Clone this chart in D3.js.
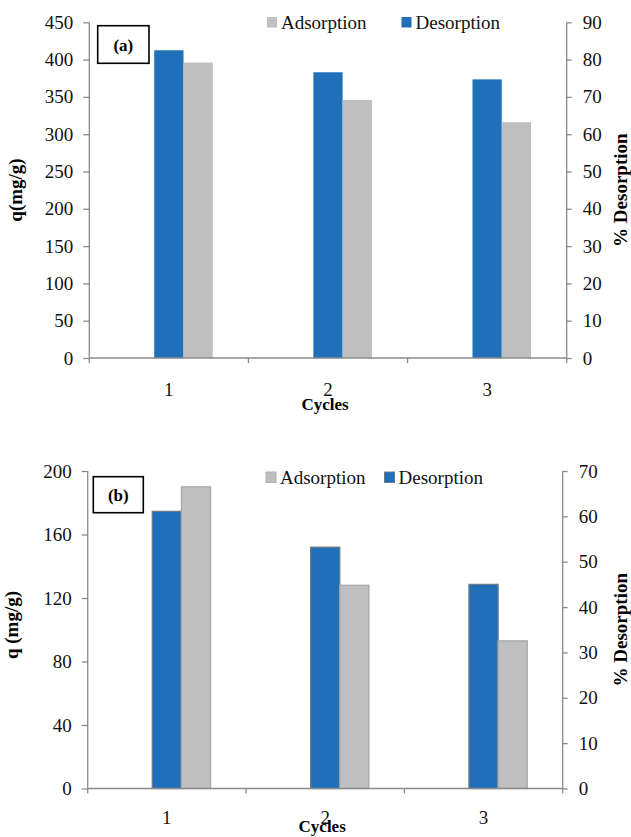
<!DOCTYPE html>
<html>
<head>
<meta charset="utf-8">
<script src="https://cdn.jsdelivr.net/npm/d3@7"></script>
<style>
  html, body { margin: 0; padding: 0; background: #fff; }
  svg { display: block; font-family: "Liberation Serif", "Times New Roman", serif; }
</style>
</head>
<body>
<svg id="chart" width="631" height="837"></svg>
<script>
// Regeneration cycles
const cycles = ["1", "2", "3"];

// Panel (a)
const adsorptionA = [396, 346, 316];      // q (mg/g)
const desorptionA = [82.5, 76.6, 74.7];   // % desorption
const leftTicksA = [0, 50, 100, 150, 200, 250, 300, 350, 400, 450];
const rightTicksA = [0, 10, 20, 30, 40, 50, 60, 70, 80, 90];

// Panel (b)
const adsorptionB = [190, 128, 93];       // q (mg/g)
const desorptionB = [61.1, 53.2, 45.0];   // % desorption
const leftTicksB = [0, 40, 80, 120, 160, 200];
const rightTicksB = [0, 10, 20, 30, 40, 50, 60, 70];

const BLUE = "#1f70b8";
const GREY = "#bfbfbf";
const AXIS = "#8a8a8a";

const svg = d3.select("#chart");

function panel(cfg) {
  const g = svg.append("g");
  const x = d3.scaleBand().domain(cycles).range([cfg.left, cfg.right]);
  const yL = d3.scaleLinear().domain([0, d3.max(cfg.leftTicks)]).range([cfg.bottom, cfg.top]);
  const yR = d3.scaleLinear().domain([0, d3.max(cfg.rightTicks)]).range([cfg.bottom, cfg.top]);
  const bw = x.bandwidth() * 0.184;
  const cx = c => x(c) + x.bandwidth() / 2;

  // bars: desorption centred on the category, adsorption beside it
  g.selectAll("rect.des").data(cycles).join("rect")
    .attr("class", "des")
    .attr("x", c => cx(c) - bw / 2)
    .attr("width", bw)
    .attr("y", (c, i) => yR(cfg.des[i]))
    .attr("height", (c, i) => cfg.bottom - yR(cfg.des[i]))
    .attr("fill", BLUE)
    .attr("stroke", cfg.outline ? "#6f7a85" : "none")
    .attr("stroke-width", 1.3);
  g.selectAll("rect.ads").data(cycles).join("rect")
    .attr("class", "ads")
    .attr("x", c => cx(c) + bw / 2)
    .attr("width", bw)
    .attr("y", (c, i) => yL(cfg.ads[i]))
    .attr("height", (c, i) => cfg.bottom - yL(cfg.ads[i]))
    .attr("fill", GREY)
    .attr("stroke", cfg.outline ? "#a8a8a8" : "none")
    .attr("stroke-width", 1.3);

  // left axis
  const la = g.append("g").attr("transform", `translate(${cfg.left},0)`)
    .call(d3.axisLeft(yL).tickValues(cfg.leftTicks).tickSize(6).tickPadding(10).tickFormat(d3.format("d")));
  // right axis
  const ra = g.append("g").attr("transform", `translate(${cfg.right},0)`)
    .call(d3.axisRight(yR).tickValues(cfg.rightTicks).tickSize(5).tickPadding(11).tickFormat(d3.format("d")));
  // category axis
  const xa = g.append("g").attr("transform", `translate(0,${cfg.bottom})`)
    .call(d3.axisBottom(x).tickSize(0).tickPadding(cfg.xPad));
  // category boundary ticks
  const bounds = [cfg.left].concat(cycles.map(c => x(c) + x.bandwidth()));
  g.selectAll("line.xb").data(bounds).join("line")
    .attr("class", "xb")
    .attr("x1", d => d).attr("x2", d => d)
    .attr("y1", cfg.bottom).attr("y2", cfg.bottom + 5)
    .attr("stroke", AXIS).attr("stroke-width", 1.3);

  [la, ra, xa].forEach(a => {
    a.select(".domain").attr("stroke", AXIS).attr("stroke-width", 1.3);
    a.selectAll(".tick line").attr("stroke", AXIS).attr("stroke-width", 1.3);
    a.selectAll(".tick text").attr("fill", "#111").attr("font-size", 19)
      .attr("font-family", "Liberation Serif, Times New Roman, serif");
  });
  la.select(".domain").attr("d", `M0,${cfg.top}V${cfg.bottom}`);
  ra.select(".domain").attr("d", `M0,${cfg.top}V${cfg.bottom}`);
  xa.select(".domain").attr("d", `M${cfg.left},0H${cfg.right}`);

  // axis titles
  g.append("text")
    .attr("transform", `translate(${cfg.qX},${cfg.qY}) rotate(-90)`)
    .attr("text-anchor", "middle").attr("font-weight", "bold").attr("font-size", 19)
    .text(cfg.qTitle);
  g.append("text")
    .attr("transform", `translate(${cfg.pX},${(cfg.top + cfg.bottom) / 2}) rotate(-90)`)
    .attr("text-anchor", "middle").attr("font-weight", "bold").attr("font-size", 19)
    .text("% Desorption");
  g.append("text")
    .attr("x", (cfg.left + cfg.right) / 2 - 3).attr("y", cfg.cyclesY)
    .attr("text-anchor", "middle").attr("font-weight", "bold").attr("font-size", 17)
    .text("Cycles");

  // panel label box
  g.append("rect")
    .attr("x", cfg.box[0]).attr("y", cfg.box[1])
    .attr("width", cfg.box[2]).attr("height", cfg.box[3])
    .attr("fill", "#fff").attr("stroke", "#000").attr("stroke-width", 1.6);
  g.append("text")
    .attr("x", cfg.box[0] + cfg.box[2] / 2).attr("y", cfg.box[1] + cfg.box[3] / 2 + 6)
    .attr("text-anchor", "middle").attr("font-weight", "bold").attr("font-size", 17)
    .text(cfg.label);

  // legend
  const lg = g.append("g");
  const items = [
    { name: "Adsorption", color: GREY, x: cfg.legend[0], stroke: cfg.outline ? "#b0b0b0" : "none" },
    { name: "Desorption", color: BLUE, x: cfg.legend[1], stroke: cfg.outline ? "#6f7a85" : "none" }
  ];
  items.forEach(it => {
    lg.append("rect")
      .attr("x", it.x).attr("y", cfg.legendY - 12)
      .attr("width", 10).attr("height", 10.5)
      .attr("fill", it.color).attr("stroke", it.stroke).attr("stroke-width", 1);
    lg.append("text")
      .attr("x", it.x + 14).attr("y", cfg.legendY)
      .attr("font-size", 19).attr("fill", "#111")
      .text(it.name);
  });
}

panel({
  left: 89.3, right: 566.7, top: 22.3, bottom: 358,
  leftTicks: leftTicksA, rightTicks: rightTicksA,
  ads: adsorptionA, des: desorptionA, outline: false,
  xPad: 25, cyclesY: 410,
  qTitle: "q(mg/g)", qX: 22, qY: 190, pX: 627,
  box: [97.7, 25.7, 51.3, 37.6], label: "(a)",
  legend: [267, 401.5], legendY: 29
});

panel({
  left: 87.7, right: 562.7, top: 471, bottom: 788.5,
  leftTicks: leftTicksB, rightTicks: rightTicksB,
  ads: adsorptionB, des: desorptionB, outline: true,
  xPad: 22, cyclesY: 832,
  qTitle: "q (mg/g)", qX: 18, qY: 625, pX: 627,
  box: [93.3, 476.7, 50, 36], label: "(b)",
  legend: [266, 384.5], legendY: 484
});
</script>
</body>
</html>
